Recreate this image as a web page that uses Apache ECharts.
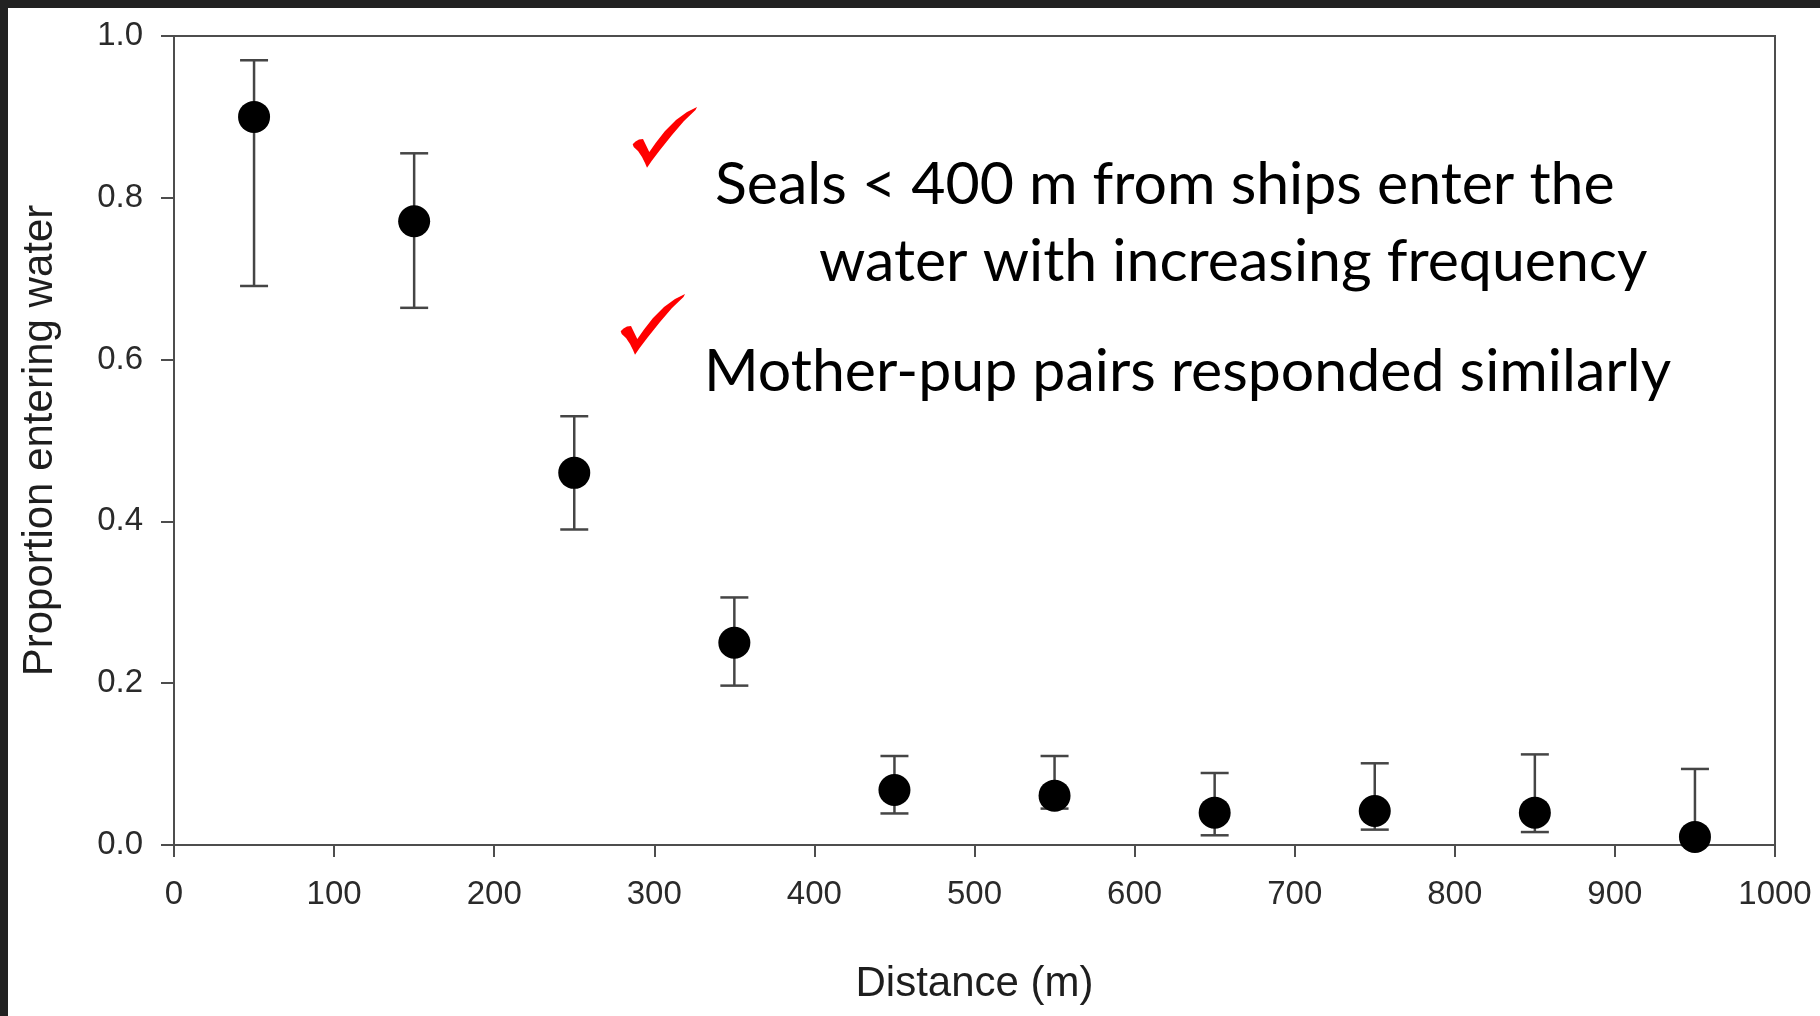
<!DOCTYPE html>
<html>
<head>
<meta charset="utf-8">
<title>Proportion entering water by distance</title>
<script src="https://cdn.jsdelivr.net/npm/echarts@6/dist/echarts.min.js"></script>
<style>
  html, body { margin: 0; padding: 0; background: #ffffff; }
  #chart { width: 1820px; height: 1016px; }
</style>
</head>
<body>
<div id="chart"></div>
<script>
// Distance bins (m) and the proportion of seals entering the water
const distances = [50, 150, 250, 350, 450, 550, 650, 750, 850, 950];
const proportion = [0.90, 0.771, 0.460, 0.250, 0.068, 0.061, 0.040, 0.042, 0.040, 0.010];
// Error bar bounds
const upperBound = [0.970, 0.855, 0.530, 0.306, 0.110, 0.110, 0.089, 0.101, 0.112, 0.094];
const lowerBound = [0.691, 0.664, 0.390, 0.197, 0.039, 0.045, 0.012, 0.019, 0.016, 0.000];

// Axis ranges and tick steps
const xRange = [0, 1000];
const xStep = 100;
const yRange = [0, 1];
const yStep = 0.2;

// Annotation lines
const noteLines = [
  'Seals < 400 m from ships enter the',
  'water with increasing frequency',
  'Mother-pup pairs responded similarly'
];

const axisColor = '#4d4d4d';
const labelColor = '#2a2a2a';

const chart = echarts.init(document.getElementById('chart'), null, { renderer: 'canvas' });

const pointData = distances.map((d, i) => [d, proportion[i]]);
const barData = distances.map((d, i) => [d, lowerBound[i], upperBound[i]]);

// Calligraphic tick mark outline (local coordinates, ~65 x 61)
const checkShape = [
  [0.7, 37.3], [3.5, 34.5], [7, 32.5], [11, 32], [17.3, 45], [24, 35.5], [33, 24],
  [44, 13], [55, 5], [65, 0], [63.5, 3], [52, 14], [40, 28], [28, 43], [20, 53.5],
  [15, 60.7], [13, 56], [10, 50], [6, 44], [1.7, 40]
];
function checkMark(x, y) {
  return {
    type: 'polygon', x: x, y: y, z: 50,
    shape: { points: checkShape },
    style: { fill: '#ff0000' }
  };
}

const noteFont = 'Lato';
const noteSize = 59;
function note(text, x, baseline) {
  return {
    type: 'text', x: x, y: baseline - 0.30 * noteSize, z: 50,
    style: {
      text: text, fontFamily: noteFont, fontSize: noteSize, fill: '#000000',
      align: 'left', verticalAlign: 'middle'
    }
  };
}

const option = {
  backgroundColor: '#ffffff',
  animation: false,
  grid: {
    left: 174, right: 45, top: 36, bottom: 171,
    show: true, borderColor: axisColor, borderWidth: 2, backgroundColor: 'transparent'
  },
  xAxis: {
    type: 'value',
    min: xRange[0], max: xRange[1], interval: xStep,
    name: 'Distance (m)',
    nameLocation: 'middle',
    nameGap: 118,
    nameTextStyle: { fontFamily: 'Liberation Sans', fontSize: 42, color: '#1e1e1e' },
    axisLine: { show: true, lineStyle: { color: axisColor, width: 2 } },
    axisTick: { show: true, inside: false, length: 12, lineStyle: { color: axisColor, width: 2 } },
    axisLabel: {
      fontFamily: 'Liberation Sans', fontSize: 33, color: labelColor, margin: 33,
      formatter: v => String(v)
    },
    splitLine: { show: false }
  },
  yAxis: {
    type: 'value',
    min: yRange[0], max: yRange[1], interval: yStep,
    name: 'Proportion entering water',
    nameLocation: 'middle',
    nameGap: 113,
    nameTextStyle: { fontFamily: 'Liberation Sans', fontSize: 42, color: '#1e1e1e' },
    axisLine: { show: true, lineStyle: { color: axisColor, width: 2 } },
    axisTick: { show: true, inside: false, length: 13, lineStyle: { color: axisColor, width: 2 } },
    axisLabel: {
      fontFamily: 'Liberation Sans', fontSize: 33, color: labelColor, margin: 31,
      formatter: v => v.toFixed(1)
    },
    splitLine: { show: false }
  },
  series: [
    {
      type: 'custom',
      name: 'error',
      data: barData,
      encode: { x: 0, y: [1, 2] },
      z: 2,
      renderItem: function (params, api) {
        const x = api.value(0);
        const top = api.coord([x, api.value(2)]);
        const bot = api.coord([x, api.value(1)]);
        const hw = 14;
        const st = { stroke: '#454545', lineWidth: 2.5 };
        return {
          type: 'group',
          children: [
            { type: 'line', shape: { x1: top[0], y1: top[1], x2: bot[0], y2: bot[1] }, style: st },
            { type: 'line', shape: { x1: top[0] - hw, y1: top[1], x2: top[0] + hw, y2: top[1] }, style: st },
            { type: 'line', shape: { x1: bot[0] - hw, y1: bot[1], x2: bot[0] + hw, y2: bot[1] }, style: st }
          ]
        };
      }
    },
    {
      type: 'scatter',
      name: 'proportion',
      data: pointData,
      symbol: 'circle',
      symbolSize: 32,
      z: 3,
      itemStyle: { color: '#000000', opacity: 1 }
    }
  ],
  graphic: [
    { type: 'rect', shape: { x: 0, y: 0, width: 1820, height: 8 }, style: { fill: '#222222' }, z: 100 },
    { type: 'rect', shape: { x: 0, y: 0, width: 8, height: 1016 }, style: { fill: '#222222' }, z: 100 },
    checkMark(632, 107),
    checkMark(620, 294),
    note(noteLines[0], 715, 203),
    note(noteLines[1], 819, 280),
    note(noteLines[2], 704, 390)
  ]
};

chart.setOption(option);
</script>
</body>
</html>
